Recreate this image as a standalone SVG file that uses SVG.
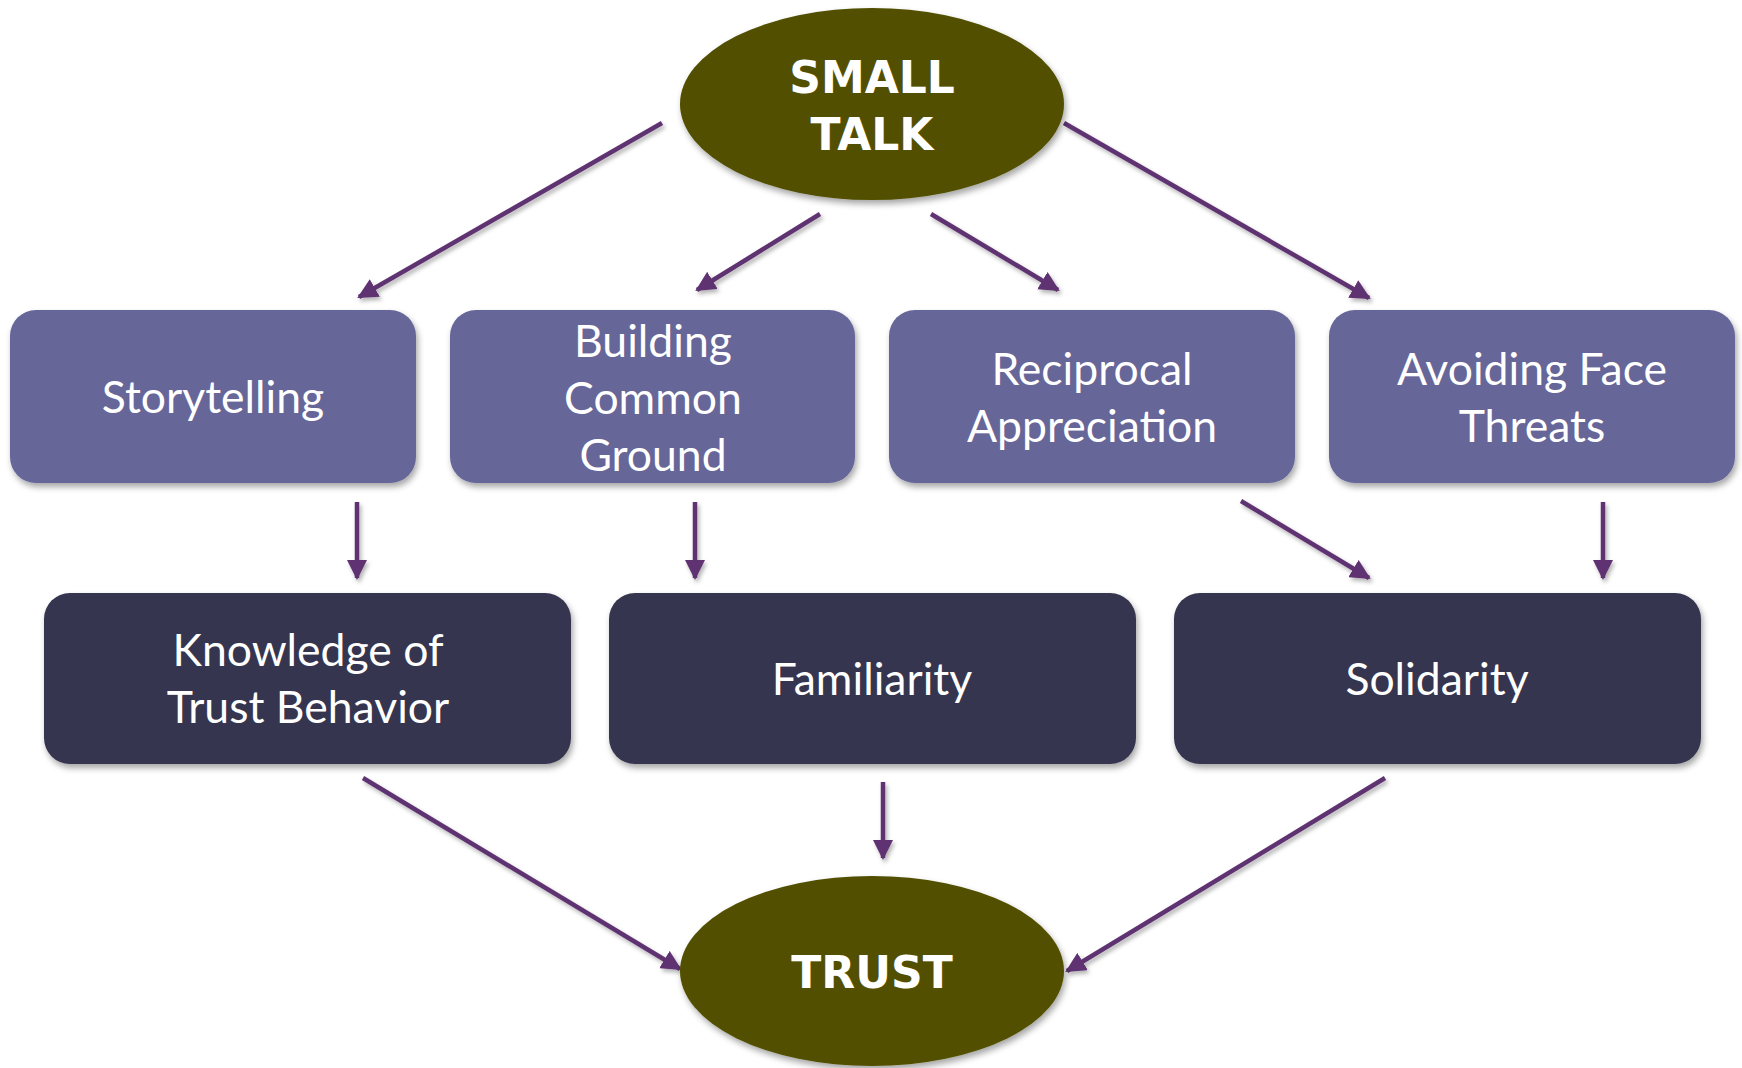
<svg xmlns="http://www.w3.org/2000/svg" width="1742" height="1068" viewBox="0 0 1742 1068">
<defs>
<filter id="sh" x="-10%" y="-10%" width="125%" height="130%">
<feDropShadow dx="2" dy="4" stdDeviation="3" flood-color="#000" flood-opacity="0.35"/>
</filter>
<filter id="ash" x="-20%" y="-20%" width="140%" height="140%">
<feDropShadow dx="2" dy="3" stdDeviation="2" flood-color="#000" flood-opacity="0.3"/>
</filter>
<marker id="ah" viewBox="0 0 10 10" refX="9" refY="5" markerWidth="4.5" markerHeight="4.5" markerUnits="strokeWidth" orient="auto">
<path d="M0,0 L10,5 L0,10 z" fill="#5f3371"/>
</marker>
</defs>
<style>
.ell{fill:#525000;filter:url(#sh)}
.lt{fill:#666699;filter:url(#sh)}
.dk{fill:#34344f;filter:url(#sh)}
.bt{font-family:"DejaVu Sans",Verdana,sans-serif;font-weight:bold;font-size:44px;fill:#fff;text-anchor:middle}
.nt{font-family:Lato,"Open Sans",sans-serif;font-size:44.5px;fill:#fff;text-anchor:middle}
.cn line{stroke:#5f3371;stroke-width:4.5;marker-end:url(#ah)}
</style>
<rect width="1742" height="1068" fill="#fff"/>
<g class="cn" id="connectors" filter="url(#ash)">
<line x1="662" y1="123" x2="359" y2="297"/>
<line x1="820" y1="214" x2="697" y2="290"/>
<line x1="931" y1="214" x2="1058" y2="290"/>
<line x1="1064" y1="123" x2="1369" y2="298"/>
<line x1="357" y1="502" x2="357" y2="578"/>
<line x1="695" y1="502" x2="695" y2="578"/>
<line x1="1241" y1="501" x2="1369" y2="578"/>
<line x1="1603" y1="502" x2="1603" y2="578"/>
<line x1="363" y1="778" x2="680" y2="969"/>
<line x1="883" y1="782" x2="883" y2="858"/>
<line x1="1385" y1="778" x2="1067" y2="971"/>
</g>
<g id="small-talk">
<ellipse class="ell" cx="872" cy="104" rx="192" ry="96"/>
<text class="bt" x="872" y="93">SMALL</text>
<text class="bt" x="872" y="150">TALK</text>
</g>
<g id="storytelling">
<rect class="lt" x="10" y="310" width="406" height="173" rx="26"/>
<text class="nt" x="213" y="413">Storytelling</text>
</g>
<g id="building-common-ground">
<rect class="lt" x="450" y="310" width="405" height="173" rx="26"/>
<text class="nt" x="653" y="357">Building</text>
<text class="nt" x="653" y="414">Common</text>
<text class="nt" x="653" y="471">Ground</text>
</g>
<g id="reciprocal-appreciation">
<rect class="lt" x="889" y="310" width="406" height="173" rx="26"/>
<text class="nt" x="1092" y="385">Reciprocal</text>
<text class="nt" x="1092" y="442">Appreciation</text>
</g>
<g id="avoiding-face-threats">
<rect class="lt" x="1329" y="310" width="406" height="173" rx="26"/>
<text class="nt" x="1532" y="385">Avoiding Face</text>
<text class="nt" x="1532" y="442">Threats</text>
</g>
<g id="knowledge">
<rect class="dk" x="44" y="593" width="527" height="171" rx="26"/>
<text class="nt" x="308" y="666">Knowledge of</text>
<text class="nt" x="308" y="723">Trust Behavior</text>
</g>
<g id="familiarity">
<rect class="dk" x="609" y="593" width="527" height="171" rx="26"/>
<text class="nt" x="872" y="695">Familiarity</text>
</g>
<g id="solidarity">
<rect class="dk" x="1174" y="593" width="527" height="171" rx="26"/>
<text class="nt" x="1437" y="695">Solidarity</text>
</g>
<g id="trust">
<ellipse class="ell" cx="872" cy="971" rx="192" ry="95"/>
<text class="bt" x="872" y="988">TRUST</text>
</g>
</svg>
